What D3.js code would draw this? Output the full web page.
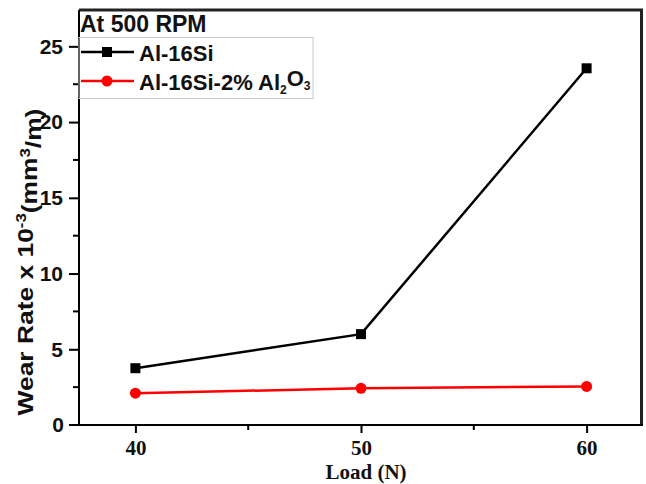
<!DOCTYPE html>
<html>
<head>
<meta charset="utf-8">
<script src="https://cdn.jsdelivr.net/npm/d3@7"></script>
<style>
  body { margin: 0; background: #fff; }
  svg { display: block; }
</style>
</head>
<body>
<div id="chart"></div>
<script>
// chart data
const loads = [40, 50, 60];
const alSi = [3.75, 6.0, 23.55];
const alSiAl2O3 = [2.1, 2.42, 2.55];
const xTicks = [40, 50, 60];
const yTicks = [0, 5, 10, 15, 20, 25];

const width = 646, height = 484;
const margin = { top: 10, right: 3, bottom: 59, left: 79 };

const svg = d3.select("#chart").append("svg")
  .attr("width", width)
  .attr("height", height);

//scales
const x = d3.scaleLinear().domain([37.5, 62.5]).range([margin.left, width - margin.right]);
const y = d3.scaleLinear().domain([0, 27.4]).range([height - margin.bottom, margin.top]);

const sans = "'Liberation Sans', Arial, sans-serif";
const serif = "'Liberation Serif', 'Times New Roman', serif";

// frame: top and right borders
svg.append("line")
  .attr("x1", margin.left).attr("x2", x.range()[1])
  .attr("y1", margin.top).attr("y2", margin.top)
  .attr("stroke", "#222").attr("stroke-width", 3);
svg.append("line")
  .attr("x1", x.range()[1] - 1.5).attr("x2", x.range()[1] - 1.5)
  .attr("y1", margin.top).attr("y2", y(0))
  .attr("stroke", "#222").attr("stroke-width", 3);

// x axis
const xAxis = svg.append("g")
  .attr("transform", "translate(0," + y(0) + ")")
  .call(d3.axisBottom(x).tickValues(xTicks).tickSize(8).tickSizeOuter(0).tickPadding(7));
xAxis.select(".domain").attr("stroke-width", 2).attr("d", "M" + (margin.left - 10) + ",0H" + x.range()[1]);
xAxis.selectAll(".tick line").attr("stroke-width", 2);
xAxis.selectAll("text")
  .style("font-family", serif)
  .style("font-weight", "bold")
  .style("font-size", "21px")
  .attr("fill", "#111");
// x minor ticks
svg.append("g").selectAll("line").data([45, 55]).enter().append("line")
  .attr("x1", d => x(d)).attr("x2", d => x(d))
  .attr("y1", y(0)).attr("y2", y(0) + 5)
  .attr("stroke", "#000").attr("stroke-width", 2);

// y axis
const yAxis = svg.append("g")
  .attr("transform", "translate(" + margin.left + ",0)")
  .call(d3.axisLeft(y).tickValues(yTicks.slice(1)).tickSize(10).tickSizeOuter(0).tickPadding(6));
yAxis.select(".domain").attr("stroke-width", 2).attr("d", "M0," + y(0) + "V" + margin.top);
yAxis.selectAll(".tick line").attr("stroke-width", 2);
yAxis.selectAll("text")
  .style("font-family", sans)
  .style("font-weight", "bold")
  .style("font-size", "21px")
  .attr("fill", "#111");
// zero label sits left of the extended x axis line
svg.append("text")
  .attr("x", margin.left - 15).attr("y", y(0))
  .attr("dy", "0.35em").attr("text-anchor", "end")
  .style("font-family", sans)
  .style("font-weight", "bold").style("font-size", "21px")
  .attr("fill", "#111")
  .text(yTicks[0]);
// y minor ticks
svg.append("g").selectAll("line").data([2.5, 7.5, 12.5, 17.5, 22.5]).enter().append("line")
  .attr("x1", margin.left - 6).attr("x2", margin.left)
  .attr("y1", d => y(d)).attr("y2", d => y(d))
  .attr("stroke", "#000").attr("stroke-width", 2);

// axis titles
svg.append("text")
  .attr("x", 366).attr("y", 479)
  .attr("text-anchor", "middle")
  .style("font-family", serif)
  .style("font-weight", "bold").style("font-size", "21px")
  .attr("fill", "#111")
  .text("Load (N)");

// y title is stretched along its length like in the original figure
const yTitle = svg.append("text")
  .attr("transform", "translate(33,262) rotate(-90) scale(1.2,1)")
  .attr("text-anchor", "middle")
  .style("font-family", sans)
  .style("font-weight", "bold").style("font-size", "22px")
  .attr("fill", "#111");
yTitle.append("tspan").text("Wear Rate x 10");
yTitle.append("tspan").attr("dy", "-0.5em").style("font-size", "14px").text("-3");
yTitle.append("tspan").attr("dy", "0.5em").text("(mm");
yTitle.append("tspan").attr("dy", "-0.5em").style("font-size", "14px").text("3");
yTitle.append("tspan").attr("dy", "0.5em").text("/m)");

// series
const series = [
  { name: "Al-16Si", values: alSi, color: "#000", shape: "square" },
  { name: "Al-16Si-2% Al2O3", values: alSiAl2O3, color: "#ff0000", shape: "circle" }
];

const line = d3.line().x((d, i) => x(loads[i])).y(d => y(d));

series.forEach(s => {
  svg.append("path")
    .datum(s.values)
    .attr("d", line)
    .attr("fill", "none")
    .attr("stroke", s.color)
    .attr("stroke-width", 2.5);
  if (s.shape === "square") {
    svg.append("g").selectAll("rect").data(s.values).enter().append("rect")
      .attr("x", (d, i) => x(loads[i]) - 5)
      .attr("y", d => y(d) - 5)
      .attr("width", 10).attr("height", 10)
      .attr("fill", s.color);
  } else {
    svg.append("g").selectAll("circle").data(s.values).enter().append("circle")
      .attr("cx", (d, i) => x(loads[i]))
      .attr("cy", d => y(d))
      .attr("r", 5.5)
      .attr("fill", s.color);
  }
});

// legend
svg.append("text")
  .attr("x", margin.left + 1).attr("y", 32)
  .style("font-family", sans).style("font-weight", "bold").style("font-size", "23px")
  .attr("fill", "#111")
  .text("At 500 RPM");

svg.append("rect")
  .attr("x", margin.left).attr("y", 37.5)
  .attr("width", 234).attr("height", 61)
  .attr("fill", "none").attr("stroke", "#c8c8c8").attr("stroke-width", 1);

const legendRows = [52, 81];
series.forEach((s, i) => {
  const ly = legendRows[i];
  svg.append("line")
    .attr("x1", margin.left + 2).attr("x2", 134)
    .attr("y1", ly).attr("y2", ly)
    .attr("stroke", s.color).attr("stroke-width", 2.5);
  if (s.shape === "square") {
    svg.append("rect").attr("x", 102).attr("y", ly - 5).attr("width", 10).attr("height", 10).attr("fill", s.color);
  } else {
    svg.append("circle").attr("cx", 107).attr("cy", ly).attr("r", 5.5).attr("fill", s.color);
  }
  const t = svg.append("text")
    .attr("x", 139).attr("y", ly + 8.5)
    .style("font-family", sans).style("font-weight", "bold").style("font-size", "22px")
    .attr("fill", "#111");
  if (i === 0) {
    t.text(s.name);
  } else {
    t.append("tspan").text("Al-16Si-2% Al");
    t.append("tspan").attr("dy", "0.35em").style("font-size", "12px").text("2");
    t.append("tspan").attr("dy", "-0.35em").text("O");
    t.append("tspan").attr("dy", "0.35em").style("font-size", "12px").text("3");
  }
});
</script>
</body>
</html>
